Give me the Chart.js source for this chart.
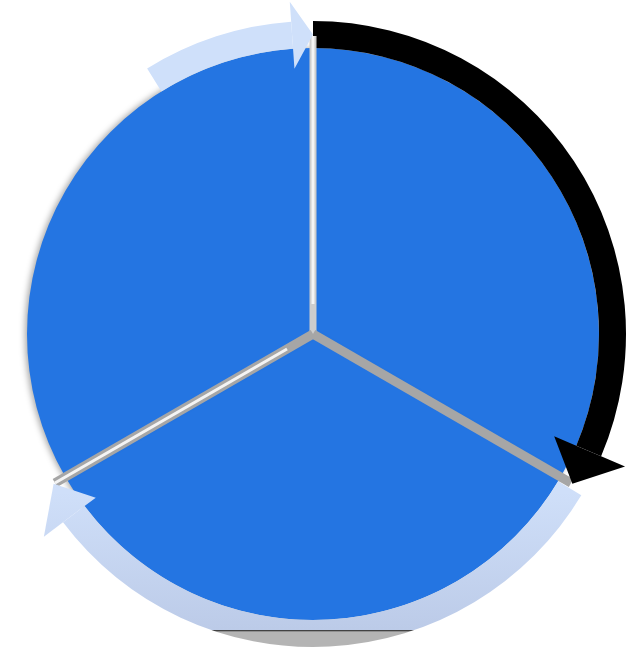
<!DOCTYPE html>
<html>
<head>
<meta charset="utf-8">
<script src="https://cdn.jsdelivr.net/npm/chart.js@4.4.1/dist/chart.umd.min.js"></script>
<style>
  html, body { margin: 0; padding: 0; background: #fff; }
</style>
</head>
<body>
<canvas id="cycle" width="628" height="651"></canvas>
<script>
// three equal parts of the cycle
const stageLabels = ['Stage 1', 'Stage 2', 'Stage 3'];
const stageValues = [1, 1, 1];

// arrow ring round the pie, spans in degrees, clockwise from the top
const ringLabels = ['forward', 'gap', 'return', 'gap', 'lead-in', 'gap'];
const ringSpans = [113, 8, 112, 95, 28, 4];

// arrow heads: which ring segment gets one, and how it looks
const headStyle = {
    0: { deg: 7, inner: 24, outer: 26 },
    2: { deg: 7, inner: 14, outer: 24 },
    4: { deg: 4, inner: 20, outer: 20 }
};

function returnFill(chart) {
    const ca = chart.chartArea;
    if (!ca) return '#c8d8f2';
    const cy = (ca.top + ca.bottom) / 2;
    const g = chart.ctx.createLinearGradient(0, cy, 0, 651);
    g.addColorStop(0, '#d4e4fc');
    g.addColorStop(0.5, '#cfdff9');
    g.addColorStop(0.933, '#bccbe8');
    g.addColorStop(0.935, '#3a3a3a');
    g.addColorStop(0.940, '#b4b4b4');
    g.addColorStop(1, '#b4b4b4');
    return g;
}

function ringColor(c) {
    let i = c.dataIndex;
    if (i === 0) return '#000000';
    if (i === 2) return returnFill(c.chart);
    if (i === 4) return '#cfe0fa';
    return 'rgba(0,0,0,0)';
}

const cyclePlugin = {
    id: 'cycle',
    beforeDatasetDraw(chart, args) {
        if (args.index !== 1) return;
        let ctx = chart.ctx;
        ctx.save();
        ctx.shadowColor = 'rgba(0,0,0,0.35)';
        ctx.shadowBlur = 6;
        ctx.shadowOffsetX = -2;
    },
    afterDatasetDraw(chart, args) {
        if (args.index === 1) chart.ctx.restore();
    },
    afterDatasetsDraw(chart) {
        let ctx = chart.ctx;
        // spokes between the slices
        let slices = chart.getDatasetMeta(1).data;
        slices.forEach((el, i) => {
            let a = el.startAngle;
            let len = el.outerRadius + 12;
            let x2 = el.x + Math.cos(a) * len;
            let y2 = el.y + Math.sin(a) * len;
            ctx.save();
            ctx.lineCap = 'butt';
            ctx.beginPath();
            ctx.moveTo(el.x, el.y);
            ctx.lineTo(x2, y2);
            ctx.strokeStyle = i === 0 ? '#cdcdcd' : '#a6a6a6';
            ctx.lineWidth = i === 0 ? 7 : 9;
            ctx.stroke();
            if (i !== 1) {
                ctx.beginPath();
                ctx.moveTo(el.x + Math.cos(a) * 30, el.y + Math.sin(a) * 30);
                ctx.lineTo(x2, y2);
                ctx.strokeStyle = '#f4f4f4';
                ctx.lineWidth = 3;
                ctx.stroke();
            }
            ctx.restore();
        });
        // arrow heads at the end of ring segments
        let ring = chart.getDatasetMeta(0).data;
        ring.forEach((el, i) => {
            let h = headStyle[i];
            if (!h) return;
            let e = el.endAngle;
            let rIn = el.innerRadius - h.inner;
            let rOut = el.outerRadius + h.outer;
            let rMid = (el.innerRadius + el.outerRadius) / 2;
            let t = e + h.deg * Math.PI / 180;
            ctx.save();
            ctx.beginPath();
            ctx.moveTo(el.x + Math.cos(e) * el.innerRadius, el.y + Math.sin(e) * el.innerRadius);
            ctx.lineTo(el.x + Math.cos(e) * rIn, el.y + Math.sin(e) * rIn);
            ctx.lineTo(el.x + Math.cos(t) * rMid, el.y + Math.sin(t) * rMid);
            ctx.lineTo(el.x + Math.cos(e) * rOut, el.y + Math.sin(e) * rOut);
            ctx.lineTo(el.x + Math.cos(e) * el.outerRadius, el.y + Math.sin(e) * el.outerRadius);
            ctx.closePath();
            ctx.fillStyle = el.options.backgroundColor;
            ctx.fill();
            ctx.restore();
        });
    }
};

new Chart(document.getElementById('cycle'), {
    type: 'pie',
    data: {
        labels: stageLabels,
        datasets: [{
            label: 'arrows',
            data: ringSpans,
            backgroundColor: ringColor,
            borderWidth: 0,
            weight: 27
        }, {
            label: 'cycle',
            data: stageValues,
            backgroundColor: '#2475e2',
            borderWidth: 0,
            weight: 286
        }]
    },
    options: {
        responsive: false,
        animation: false,
        devicePixelRatio: 1,
        layout: {
            padding: { left: 0, top: 21, right: 2, bottom: 4 }
        },
        plugins: {
            legend: { display: false },
            tooltip: { enabled: false }
        }
    },
    plugins: [cyclePlugin]
});
</script>
</body>
</html>
